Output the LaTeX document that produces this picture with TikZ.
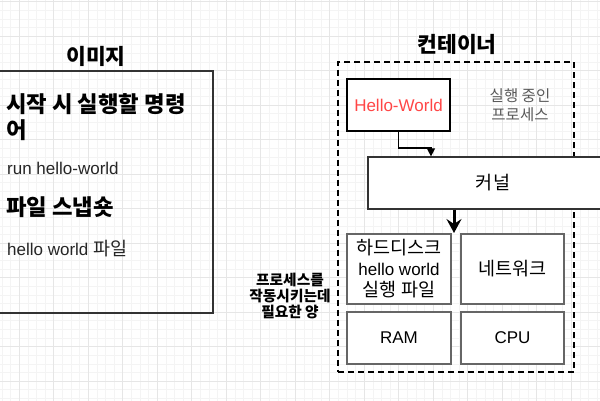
\documentclass[tikz,border=0pt]{standalone}
\usepackage{fontspec}
\setmainfont{Liberation Sans}
\newfontfamily\kr{Noto Sans CJK KR}
\usetikzlibrary{arrows.meta}
\definecolor{gridminor}{HTML}{F4F4F4}
\definecolor{gridmajor}{HTML}{E6E6E6}
\definecolor{hwred}{HTML}{FF4646}
\definecolor{boxgray}{HTML}{666666}
\newcommand{\krbody}{\kr\fontsize{18.5}{21}\selectfont}
\begin{document}
\begin{tikzpicture}[x=1pt,y=-1pt]
      \tikzstyle{title}=[font=\kr\bfseries\fontsize{21.5}{24}\selectfont,inner sep=0pt]
      \tikzstyle{head}=[font=\kr\bfseries\fontsize{22.3}{26}\selectfont,inner sep=0pt,align=left,anchor=west]
      \tikzstyle{body}=[font=\fontsize{17}{21}\selectfont,inner sep=0pt,anchor=west,text=black!85]
      \tikzstyle{resbox}=[draw=boxgray,fill=white,line width=1.2pt,minimum width=104pt,font=\fontsize{17}{21}\selectfont,align=center,inner sep=0pt]
      \tikzstyle{arr}=[draw,line width=1.2pt,-{Triangle[length=8pt,width=8pt]}]
      \useasboundingbox (0,0) rectangle (600,401);
      \fill[white] (0,0) rectangle (600,401);
      \foreach \i in {0,...,70}
        \draw[gridminor,line width=0.8pt] ({-6.575+\i*8.625},0) -- ({-6.575+\i*8.625},401);
      \foreach \i in {0,...,46}
        \draw[gridminor,line width=0.8pt] (0,{1.7+\i*8.625}) -- (600,{1.7+\i*8.625});
      \foreach \i in {0,...,17}
        \draw[gridmajor,line width=0.8pt] ({-15.2+\i*34.5},0) -- ({-15.2+\i*34.5},401);
      \foreach \i in {0,...,11}
        \draw[gridmajor,line width=0.8pt] (0,{1.7+\i*34.5}) -- (600,{1.7+\i*34.5});
      % image
      \node[title] (imgtitle) at (96,56) {이미지};
      \node[draw=black!80,line width=1.2pt,minimum width=233pt,minimum height=242pt] (img) at (96.5,192) {};
      \node[head] (cmd) at (6,117) {시작 시 실행할 명령\\어};
      \begin{scope}
        \clip (0,0) rectangle (213,176.5);
        \node[body,anchor=base west] (run) at (7,175) {run hello-world};
      \end{scope}
      \node[head] (snap) at (6,207.5) {파일 스냅숏};
      \node[body] (file) at (7,248.5) {hello world {\krbody 파일}};
      % container
      \node[title] (cttitle) at (457,44) {컨테이너};
      \node[draw,dashed,dash pattern=on 6pt off 4pt,line width=1.8pt,minimum width=236pt,minimum height=310pt] (ct) at (456,217) {};
      \node[draw,fill=white,line width=1.5pt,minimum width=103pt,minimum height=52pt,text=hwred,font=\fontsize{17}{21}\selectfont] (hw) at (398.5,105) {Hello-World};
      \node[text=black!65,font=\kr\fontsize{15.5}{18.5}\selectfont,align=center,inner sep=0pt] (proc) at (520,105) {실행 중인\\프로세스};
      \node[draw=black!80,fill=white,line width=1.2pt,minimum width=250pt,minimum height=52pt,font=\krbody] (kernel) at (493,183) {커널};
      \coordinate (bend) at (431,148);
      \path[arr] (hw.south) |- (bend) -- (bend |- kernel.north);
      \node[resbox,minimum height=70pt] (disk) at (399,269) {{\krbody 하드디스크}\\hello world\\{\krbody 실행 파일}};
      \node[resbox,minimum width=103pt,minimum height=70pt] (net) at (512.5,269) {\krbody 네트워크};
      \node[resbox,minimum height=52pt] (ram) at (399,338) {RAM};
      \node[resbox,minimum width=103pt,minimum height=52pt] (cpu) at (512.5,338) {CPU};
      \coordinate (down) at (454,233);
      \path[draw,line width=3pt,-{Stealth[length=14pt,width=15pt,inset=5pt]}] (kernel.south -| down) -- (down);
      \node[font=\kr\bfseries\fontsize{14.7}{16}\selectfont,align=center,inner sep=0pt] (need) at (290,296) {프로세스를\\작동시키는데\\필요한 양};
    \end{tikzpicture}
\end{document}
